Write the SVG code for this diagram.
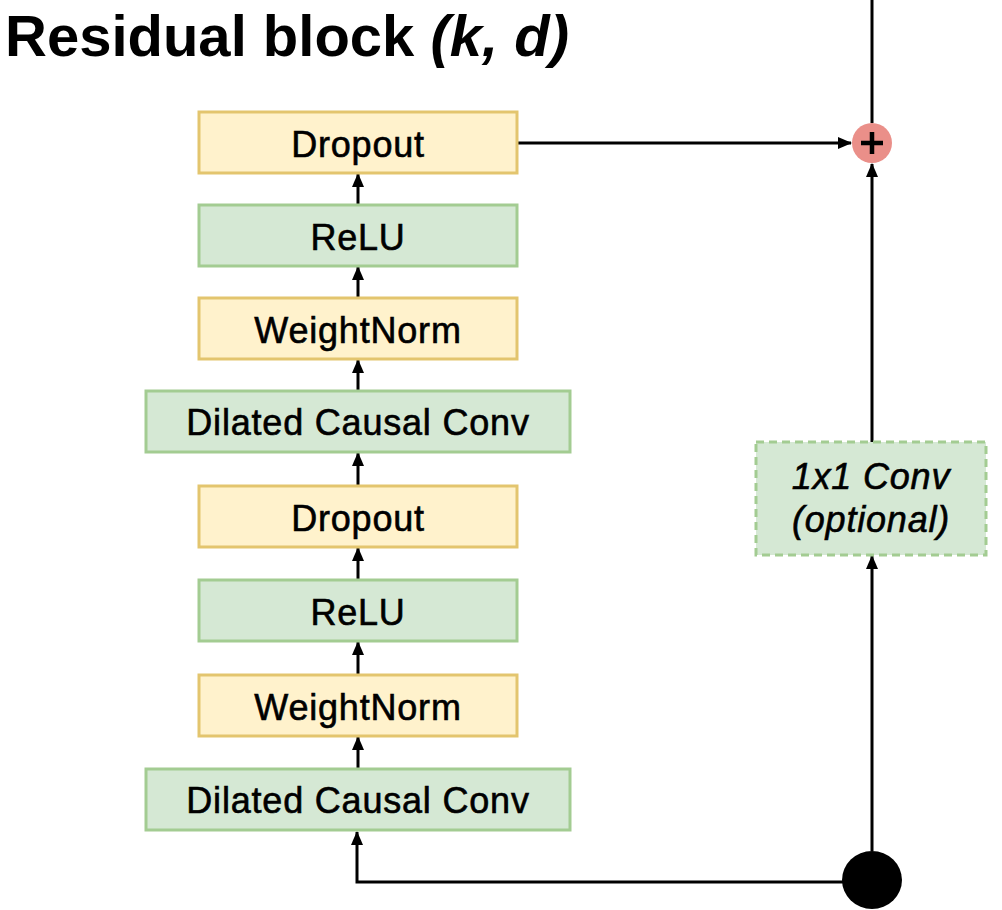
<svg xmlns="http://www.w3.org/2000/svg" width="1002" height="910" viewBox="0 0 1002 910">
<defs>
<style>
.y{fill:#FFF2CC;stroke:#E3C56E;stroke-width:3}
.g{fill:#D5E8D4;stroke:#A3CC92;stroke-width:3}
.t{font-family:"Liberation Sans",Arial,sans-serif;font-size:36px;fill:#000;stroke:#000;stroke-width:0.6px;letter-spacing:0.8px;text-anchor:middle}
.c{fill:none;stroke:#000;stroke-width:3}
</style>
<marker id="a" markerUnits="userSpaceOnUse" markerWidth="14" markerHeight="14" viewBox="0 0 14 12" refX="13" refY="6" orient="auto">
<path d="M0,0 L14,6 L0,12 z" fill="#000"/>
</marker>
</defs>
<rect width="1002" height="910" fill="#fff"/>
<text x="5" y="56" font-family="'Liberation Sans',Arial,sans-serif" font-size="58" font-weight="bold">Residual block <tspan font-style="italic">(k, d)</tspan></text>
<g id="connectors">
<line class="c" x1="358" y1="205" x2="358" y2="174" marker-end="url(#a)"/>
<line class="c" x1="358" y1="298" x2="358" y2="267" marker-end="url(#a)"/>
<line class="c" x1="358" y1="391" x2="358" y2="360" marker-end="url(#a)"/>
<line class="c" x1="358" y1="486" x2="358" y2="453" marker-end="url(#a)"/>
<line class="c" x1="358" y1="580" x2="358" y2="548" marker-end="url(#a)"/>
<line class="c" x1="358" y1="675" x2="358" y2="642" marker-end="url(#a)"/>
<line class="c" x1="358" y1="769" x2="358" y2="737" marker-end="url(#a)"/>
<line class="c" x1="517" y1="143" x2="851" y2="143" marker-end="url(#a)"/>
<line class="c" x1="872" y1="0" x2="872" y2="123"/>
<line class="c" x1="872" y1="442" x2="872" y2="164" marker-end="url(#a)"/>
<line class="c" x1="872" y1="851" x2="872" y2="556" marker-end="url(#a)"/>
<path class="c" d="M843,882 H357 V832" marker-end="url(#a)"/>
</g>
<g id="dropout1"><rect class="y" x="199" y="112" width="318" height="61"/><text class="t" x="358" y="157">Dropout</text></g>
<g id="relu1"><rect class="g" x="199" y="205" width="318" height="61"/><text class="t" x="358" y="250">ReLU</text></g>
<g id="weightnorm1"><rect class="y" x="199" y="298" width="318" height="61"/><text class="t" x="358" y="343">WeightNorm</text></g>
<g id="dcc1"><rect class="g" x="146" y="391" width="424" height="61"/><text class="t" x="358" y="435">Dilated Causal Conv</text></g>
<g id="dropout2"><rect class="y" x="199" y="486" width="318" height="61"/><text class="t" x="358" y="531">Dropout</text></g>
<g id="relu2"><rect class="g" x="199" y="580" width="318" height="61"/><text class="t" x="358" y="625">ReLU</text></g>
<g id="weightnorm2"><rect class="y" x="199" y="675" width="318" height="61"/><text class="t" x="358" y="720">WeightNorm</text></g>
<g id="dcc2"><rect class="g" x="146" y="769" width="424" height="61"/><text class="t" x="358" y="813">Dilated Causal Conv</text></g>
<g id="conv1x1"><rect class="g" x="756" y="442" width="230" height="113" stroke-dasharray="8 5"/><text class="t" x="871" y="489" font-style="italic">1x1 Conv</text><text class="t" x="871" y="532" font-style="italic">(optional)</text></g>
<g id="plus"><circle cx="872" cy="143" r="20" fill="#EA8F89"/><path d="M872,132 V154 M861,143 H883" stroke="#000" stroke-width="4.5"/></g>
<g id="input"><ellipse cx="872" cy="880" rx="30" ry="29" fill="#000"/></g>
</svg>
